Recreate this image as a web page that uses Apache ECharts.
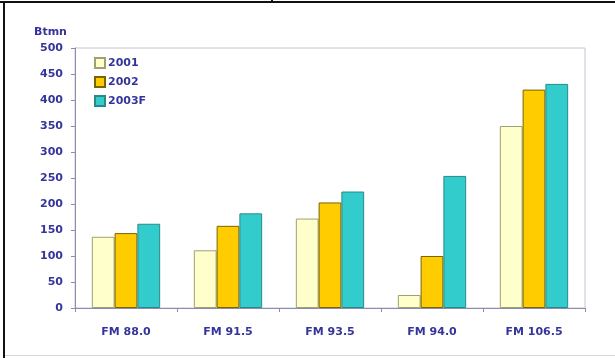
<!DOCTYPE html>
<html>
<head>
<meta charset="utf-8">
<script src="https://cdn.jsdelivr.net/npm/echarts@6/dist/echarts.min.js"></script>
<style>
  html, body { margin: 0; padding: 0; background: #fff; }
  #chart { width: 615px; height: 358px; }
</style>
</head>
<body>
<div id="chart"></div>
<script>
// Station revenue by frequency, Btmn
const stations = ['FM 88.0', 'FM 91.5', 'FM 93.5', 'FM 94.0', 'FM 106.5'];
const rev2001  = [137, 111, 172, 25, 350];
const rev2002  = [144, 158, 203, 100, 420];
const rev2003F = [162, 182, 224, 254, 431];
const seriesNames = ['2001', '2002', '2003F'];
const unitLabel = 'Btmn';

const navy = '#34349a';
const fontFamily = '"DejaVu Sans", Verdana, sans-serif';
const labelFont = { color: navy, fontFamily: fontFamily, fontWeight: 'bold', fontSize: 11 };

const styles = [
  { color: '#ffffcc', borderColor: '#a0a070' },
  { color: '#ffcc00', borderColor: '#7a6400' },
  { color: '#33cccc', borderColor: '#2a8888' }
];

const chart = echarts.init(document.getElementById('chart'), null, { renderer: 'canvas' });

chart.setOption({
  animation: false,
  backgroundColor: '#ffffff',
  grid: {
    left: 75, right: 30, top: 48, bottom: 50,
    show: true, borderColor: '#c4c4d6', borderWidth: 1, backgroundColor: 'transparent'
  },
  legend: {
    orient: 'vertical',
    left: 89, top: 52,
    itemWidth: 10, itemHeight: 10, itemGap: 7,
    icon: 'rect',
    textStyle: Object.assign({}, labelFont, { padding: [0, 0, 0, -2] }),
    data: seriesNames
  },
  xAxis: {
    type: 'category',
    data: stations,
    axisLine: { lineStyle: { color: '#8c8cb0', width: 1 } },
    axisTick: { show: true, alignWithLabel: false, length: 4, lineStyle: { color: '#8c8cb0' } },
    axisLabel: Object.assign({}, labelFont, { margin: 19 })
  },
  yAxis: {
    type: 'value',
    min: 0, max: 500, interval: 50,
    axisLine: { show: true, lineStyle: { color: '#8c8cb0', width: 1 } },
    axisTick: { show: true, length: 4, lineStyle: { color: '#8c8cb0' } },
    splitLine: { show: false },
    axisLabel: Object.assign({}, labelFont, { margin: 12 })
  },
  series: [rev2001, rev2002, rev2003F].map((vals, i) => ({
    name: seriesNames[i],
    type: 'bar',
    data: vals,
    barGap: '0%',
    barCategoryGap: '33%',
    itemStyle: { color: styles[i].color, borderColor: styles[i].borderColor, borderWidth: 1 }
  })),
  graphic: [
    { type: 'text', left: 34, top: 27, style: { text: unitLabel, fill: navy, font: 'bold 11px "DejaVu Sans", Verdana, sans-serif' } },
    // page frame
    { type: 'rect', shape: { x: 0, y: 1, width: 615, height: 2 }, style: { fill: '#111' } },
    { type: 'rect', shape: { x: 3, y: 1, width: 2, height: 357 }, style: { fill: '#111' } },
    { type: 'rect', shape: { x: 271, y: 0, width: 2, height: 3 }, style: { fill: '#111' } },
    { type: 'rect', shape: { x: 5, y: 355, width: 610, height: 1 }, style: { fill: '#d8d8d8' } }
  ]
});
</script>
</body>
</html>
